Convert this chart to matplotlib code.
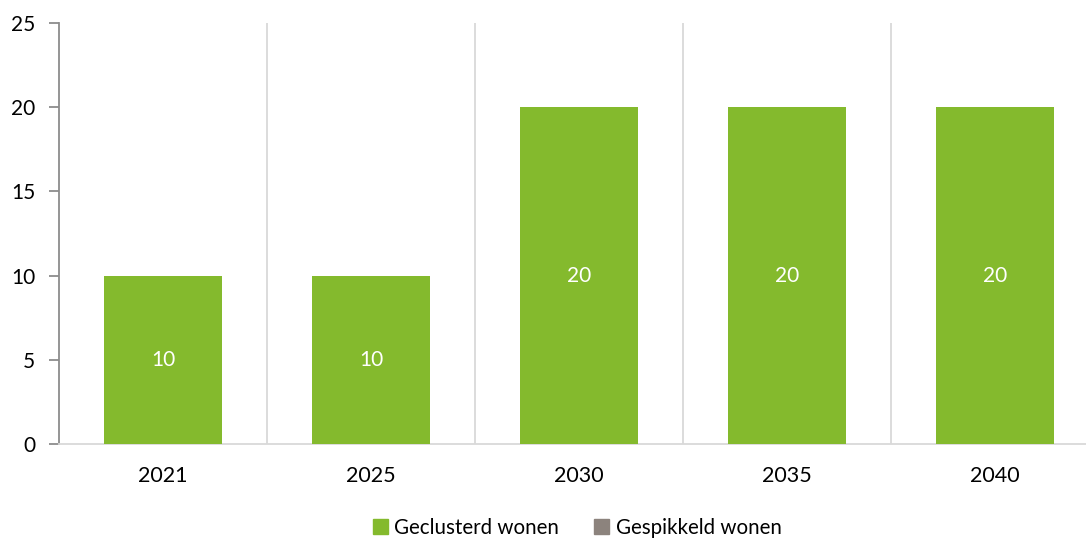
import matplotlib
matplotlib.use("Agg")
import matplotlib.pyplot as plt
from matplotlib.patches import Patch
import numpy as np

years = ["2021", "2025", "2030", "2035", "2040"]
geclusterd = [10, 10, 20, 20, 20]
gespikkeld = [0, 0, 0, 0, 0]
yticks = [0, 5, 10, 15, 20, 25]

green = "#84BA2D"
grey = "#8C837D"

plt.rcParams["font.family"] = ["Lato", "DejaVu Sans"]

fig = plt.figure(figsize=(10.86, 5.40), dpi=100)
ax = fig.add_axes([59 / 1086, 96 / 540, 1027 / 1086, 421 / 540])

x = np.arange(len(years))
bars = ax.bar(x, geclusterd, width=0.565, color=green, zorder=3)
ax.bar(x, gespikkeld, bottom=geclusterd, width=0.565, color=grey, zorder=3)

for rect, v in zip(bars, geclusterd):
    ax.text(rect.get_x() + rect.get_width() / 2, v / 2, f"{v}",
            ha="center", va="center", color="white", fontsize=15, zorder=4)

# vertical separators between the year categories
for b in np.arange(0.5, len(years) - 0.5, 1.0):
    ax.axvline(b, color="#D9D9D9", lw=1.3, zorder=1)

ax.set_xlim(-0.5, len(years) - 0.5 - 13 / 208)
ax.set_ylim(0, 25)
ax.set_yticks(yticks)
ax.set_xticks(x)
ax.set_xticklabels(years)

for s in ["top", "right"]:
    ax.spines[s].set_visible(False)
ax.spines["left"].set_color("#8C8C8C")
ax.spines["left"].set_linewidth(1.3)
ax.spines["bottom"].set_color("#D9D9D9")
ax.spines["bottom"].set_linewidth(1.3)

ax.tick_params(axis="y", length=7, width=1.3, color="#8C8C8C", labelsize=15, pad=10)
ax.tick_params(axis="x", length=0, labelsize=15.5, pad=16)

handles = [Patch(color=green, label="Geclusterd wonen"),
           Patch(color=grey, label="Gespikkeld wonen")]
fig.legend(handles=handles, loc="center", bbox_to_anchor=(577 / 1086, 1 - 528 / 540),
           ncol=2, frameon=False, fontsize=14.8, handlelength=0.75, handleheight=0.75,
           handletextpad=0.3, columnspacing=1.7)

fig.savefig("out.png", dpi=100)
